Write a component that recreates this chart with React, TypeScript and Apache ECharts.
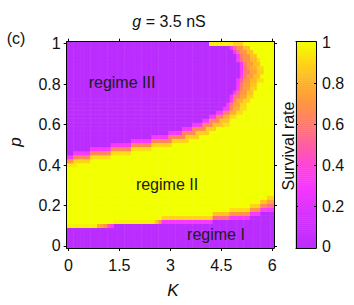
import React, { useEffect, useRef } from 'react';
import * as echarts from 'echarts';

// ---------- data ----------
// axis categories: K = 0..6 step 0.1 (61 columns), p = 0..1 step 0.02 (51 rows)
const K_CATEGORIES = Array.from({ length: 61 }, (_, j) => (j / 10).toFixed(1));
const P_CATEGORIES = Array.from({ length: 51 }, (_, i) => (i / 50).toFixed(2));
const K_TICK_LABELS = ['0', '1.5', '3', '4.5', '6'];
const P_TICK_LABELS = ['0', '0.2', '0.4', '0.6', '0.8', '1'];
const CB_TICK_LABELS = ['0', '0.2', '0.4', '0.6', '0.8', '1'];
const CB_LEVELS = Array.from({ length: 101 }, (_, i) => (i / 100).toFixed(2));

// survival rate inside regime II
const REGIME_II_VALUE = 1;

// regime I (bottom): runs of [number of columns, purple rows from p=0, values of the cells above]
const LOWER_BOUNDARY: [number, number, number[]][] = [
  [9, 5, [0.97]],
  [1, 5, [0.8]],
  [1, 5, [0.75]],
  [1, 5, [0.7]],
  [1, 5, [0.45]],
  [1, 5, [0.35]],
  [12, 6, [0.97]],
  [1, 6, [0.85]],
  [1, 6, [0.7]],
  [15, 6, [0.3, 0.9]],
  [5, 7, [0.55, 0.85]],
  [6, 7, [0.3, 0.7, 0.92]],
  [3, 8, [0.3, 0.7, 0.9]],
  [2, 9, [0.35, 0.65, 0.85]],
  [2, 9, [0.3, 0.55, 0.75, 0.9]],
];

// regime III (top-left): for rows p = 0.40 .. 1.00, last purple column (-1 = none)
const UPPER_FIRST_ROW = 20;
const UPPER_PURPLE_END = [
  -1, -1, -1, 1, 6, 12, 18, 24, 29, 33, 36, 39, 41, 43, 45, 46,
  47, 47, 48, 49, 49, 49, 50, 50, 50, 50, 49, 49, 48, 47, 41,
];
// runs [value, columns] to the right of the purple part of each row
const UPPER_EDGE_RUNS: [number, number][][] = [
  [[0.95, 3]],
  [[0.7, 2], [0.9, 5]],
  [[0.3, 2], [0.65, 5], [0.92, 6]],
  [[0.3, 5], [0.65, 6], [0.92, 6]],
  [[0.3, 6], [0.65, 6], [0.92, 6]],
  [[0.3, 6], [0.65, 6], [0.9, 6]],
  [[0.3, 6], [0.65, 6], [0.9, 5]],
  [[0.3, 5], [0.65, 5], [0.88, 4]],
  [[0.3, 4], [0.65, 4], [0.88, 4]],
  [[0.3, 3], [0.65, 4], [0.88, 3]],
  [[0.3, 3], [0.65, 3], [0.85, 3], [0.93, 2]],
  [[0.3, 2], [0.65, 3], [0.85, 3]],
  [[0.3, 2], [0.62, 2], [0.8, 2], [0.92, 2]],
  [[0.3, 2], [0.6, 2], [0.8, 2], [0.92, 2]],
  [[0.3, 2], [0.65, 1], [0.8, 2], [0.92, 2]],
  [[0.3, 1], [0.6, 1], [0.75, 2], [0.9, 2]],
  [[0.35, 1], [0.65, 1], [0.8, 2], [0.9, 2]],
  [[0.3, 1], [0.6, 2], [0.75, 2], [0.9, 2]],
  [[0.3, 1], [0.55, 1], [0.7, 2], [0.85, 2]],
  [[0.35, 1], [0.62, 1], [0.75, 2], [0.88, 2]],
  [[0.3, 1], [0.6, 1], [0.72, 2], [0.85, 2]],
  [[0.3, 1], [0.5, 1], [0.7, 2], [0.82, 2], [0.92, 2]],
  [[0.35, 1], [0.6, 1], [0.72, 2], [0.85, 2]],
  [[0.3, 1], [0.6, 2], [0.75, 2], [0.88, 2]],
  [[0.3, 1], [0.55, 1], [0.7, 1], [0.8, 2], [0.9, 2]],
  [[0.3, 1], [0.6, 1], [0.72, 2], [0.85, 2]],
  [[0.35, 1], [0.55, 1], [0.7, 2], [0.82, 2], [0.92, 1]],
  [[0.3, 1], [0.6, 1], [0.7, 2], [0.85, 2]],
  [[0.3, 1], [0.55, 1], [0.7, 2], [0.85, 2]],
  [[0.3, 1], [0.55, 1], [0.7, 2], [0.85, 2]],
  [[0.97, 7], [0.88, 3]],
];

const COLORMAP = [
  '#bb2dfe', '#cc30ff', '#e034ff', '#f838ff', '#ff45d8', '#ff5fa0',
  '#ff7a70', '#ff9445', '#ffb02a', '#ffd418', '#f2ff00',
];

const FONT = "'Liberation Sans', Arial, Helvetica, sans-serif";

function buildCells(): number[][] {
  const nc = K_CATEGORIES.length;
  const nr = P_CATEGORIES.length;
  const g: number[][] = Array.from({ length: nr }, () => Array(nc).fill(REGIME_II_VALUE));
  let col = 0;
  for (const [count, rows, edge] of LOWER_BOUNDARY) {
    for (let c = 0; c < count; c++, col++) {
      for (let i = 0; i < rows; i++) g[i][col] = 0;
      edge.forEach((v, k) => { g[rows + k][col] = v; });
    }
  }
  UPPER_PURPLE_END.forEach((end, r) => {
    const i = UPPER_FIRST_ROW + r;
    for (let j = 0; j <= end; j++) g[i][j] = 0;
    let j = end + 1;
    for (const [v, n] of UPPER_EDGE_RUNS[r]) {
      for (let k = 0; k < n && j < nc; k++, j++) g[i][j] = v;
    }
  });
  const out: number[][] = [];
  for (let i = 0; i < nr; i++) for (let j = 0; j < nc; j++) out.push([j, i, g[i][j]]);
  return out;
}

export default function App() {
  const ref = useRef<HTMLDivElement>(null);
  useEffect(() => {
    if (!ref.current) return;
    const chart = echarts.init(ref.current, null, { renderer: 'svg' });
    const black = { color: '#000', width: 1 };
    const kEvery = (i: number) => i % 15 === 0;
    const pEvery = (i: number) => i % 10 === 0;
    const cbEvery = (i: number) => i % 20 === 0 && i > 0 && i < 100;
    const cbLabelEvery = (i: number) => i % 20 === 0;
    const labelStyle = { fontSize: 16, color: '#111', fontFamily: FONT };
    const cbData = CB_LEVELS.map((v, i) => [0, i, Number(v)]);

    chart.setOption({
      animation: false,
      grid: [
        { left: 66.7, top: 41.7, width: 207.3, height: 206.3 },
        { left: 296, top: 41.7, width: 20, height: 206.3 },
      ],
      visualMap: {
        type: 'continuous', show: false, min: 0, max: 1, dimension: 2,
        seriesIndex: [0, 1], inRange: { color: COLORMAP },
      },
      xAxis: [
        {
          type: 'category', gridIndex: 0, data: K_CATEGORIES, position: 'bottom', z: 10,
          axisLine: { show: true, lineStyle: black },
          axisTick: { show: true, alignWithLabel: true, interval: kEvery, length: 3, lineStyle: black },
          axisLabel: {
            interval: kEvery, margin: 9, ...labelStyle,
            formatter: (_v: string, idx: number) => K_TICK_LABELS[idx / 15],
          },
          splitLine: { show: false },
        },
        {
          type: 'category', gridIndex: 0, data: K_CATEGORIES, position: 'top', z: 10,
          axisLine: { show: true, lineStyle: black },
          axisTick: { show: true, alignWithLabel: true, interval: kEvery, length: 3, lineStyle: black },
          axisLabel: { show: false },
          splitLine: { show: false },
        },
        {
          type: 'category', gridIndex: 1, data: ['cb'], position: 'bottom', z: 10,
          axisLine: { show: true, lineStyle: black },
          axisTick: { show: false }, axisLabel: { show: false },
        },
        {
          type: 'category', gridIndex: 1, data: ['cb'], position: 'top', z: 10,
          axisLine: { show: true, lineStyle: black },
          axisTick: { show: false }, axisLabel: { show: false },
        },
      ],
      yAxis: [
        {
          type: 'category', gridIndex: 0, data: P_CATEGORIES, position: 'left', z: 10,
          axisLine: { show: true, lineStyle: black },
          axisTick: { show: true, alignWithLabel: true, interval: pEvery, length: 3, lineStyle: black },
          axisLabel: {
            interval: pEvery, margin: 6, ...labelStyle,
            formatter: (_v: string, idx: number) => P_TICK_LABELS[idx / 10],
          },
          splitLine: { show: false },
        },
        {
          type: 'category', gridIndex: 0, data: P_CATEGORIES, position: 'right', z: 10,
          axisLine: { show: true, lineStyle: black },
          axisTick: { show: true, alignWithLabel: true, interval: pEvery, length: 3, lineStyle: black },
          axisLabel: { show: false },
          splitLine: { show: false },
        },
        {
          type: 'category', gridIndex: 1, data: CB_LEVELS, position: 'right', z: 10,
          axisLine: { show: true, lineStyle: black },
          axisTick: { show: true, inside: true, alignWithLabel: true, interval: cbEvery, length: 2, lineStyle: black },
          axisLabel: {
            interval: cbLabelEvery, margin: 6, ...labelStyle,
            formatter: (_v: string, idx: number) => CB_TICK_LABELS[idx / 20],
          },
          splitLine: { show: false },
        },
        {
          type: 'category', gridIndex: 1, data: CB_LEVELS, position: 'left', z: 10,
          axisLine: { show: true, lineStyle: black },
          axisTick: { show: true, inside: true, alignWithLabel: true, interval: cbEvery, length: 2, lineStyle: black },
          axisLabel: { show: false },
          splitLine: { show: false },
        },
      ],
      series: [
        {
          type: 'heatmap', xAxisIndex: 0, yAxisIndex: 0, data: buildCells(),
          progressive: 0, emphasis: { disabled: true },
        },
        {
          type: 'heatmap', xAxisIndex: 2, yAxisIndex: 2, data: cbData,
          progressive: 0, emphasis: { disabled: true },
        },
      ],
      graphic: [
        {
          type: 'text', x: 169, y: 21,
          style: {
            text: '{i|g} = 3.5 nS', textAlign: 'center', textVerticalAlign: 'middle',
            fontSize: 16, fontFamily: FONT, fill: '#111',
            rich: { i: { fontStyle: 'italic', fontSize: 16, fontFamily: FONT, fill: '#111' } },
          },
        },
        { type: 'text', x: 16, y: 38, style: { text: '(c)', textAlign: 'center', textVerticalAlign: 'middle', fontSize: 16, fontFamily: FONT, fill: '#111' } },
        { type: 'text', x: 15, y: 142, rotation: Math.PI / 2, style: { text: 'p', textAlign: 'center', textVerticalAlign: 'middle', fontSize: 17, fontStyle: 'italic', fontFamily: FONT, fill: '#111' } },
        { type: 'text', x: 173, y: 290, style: { text: 'K', textAlign: 'center', textVerticalAlign: 'middle', fontSize: 17, fontStyle: 'italic', fontFamily: FONT, fill: '#111' } },
        { type: 'text', x: 288, y: 146, rotation: Math.PI / 2, style: { text: 'Survival rate', textAlign: 'center', textVerticalAlign: 'middle', fontSize: 16, fontFamily: FONT, fill: '#111' } },
        { type: 'text', x: 122, y: 82, z: 20, style: { text: 'regime III', textAlign: 'center', textVerticalAlign: 'middle', fontSize: 16, fontFamily: FONT, fill: '#1a1a1a' } },
        { type: 'text', x: 167, y: 184, z: 20, style: { text: 'regime II', textAlign: 'center', textVerticalAlign: 'middle', fontSize: 16, fontFamily: FONT, fill: '#1a1a1a' } },
        { type: 'text', x: 216, y: 234, z: 20, style: { text: 'regime I', textAlign: 'center', textVerticalAlign: 'middle', fontSize: 16, fontFamily: FONT, fill: '#1a1a1a' } },
      ],
    });
    return () => chart.dispose();
  }, []);
  return (
    <div
      ref={ref}
      style={{ position: 'absolute', left: 0, top: 0, width: 354, height: 305, background: '#fff' }}
    />
  );
}
